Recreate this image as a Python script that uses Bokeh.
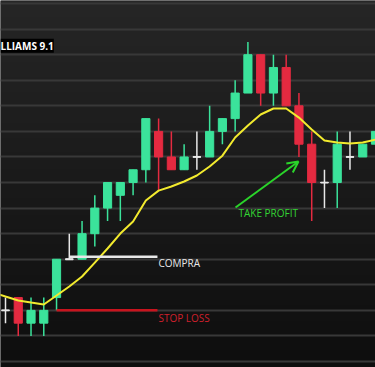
import numpy as np
from bokeh.plotting import figure
from bokeh.models import Range1d, FixedTicker, Label, Arrow, OpenHead, ColumnDataSource
from bokeh.embed import file_html
from bokeh.resources import INLINE

# ---- data (price levels, half-grid units) ----
idx   = list(range(30))
opens = [4, 5, 3, 3, 5, 8, 8, 10, 12, 13, 14, 15, 18, 16, 15, 16, 16, 18, 19, 21, 24, 21, 23, 20, 17, 14, 14, 16, 16, 17]
highs = [5, 5, 5, 5, 8, 10, 11, 13, 14, 14, 15, 19, 19, 18, 17, 18, 20, 19, 22, 25, 24, 24, 24, 21, 18, 15, 18, 18, 17, 18]
lows  = [3, 2, 2, 2, 4, 8, 8, 9, 11, 11, 13, 14, 13.4, 15, 15, 15, 16, 17, 18, 21, 20, 20, 20, 16, 11, 12, 12, 15, 16, 17]
closes= [4, 3, 4, 4, 8, 8, 10, 12, 14, 14, 15, 19, 16, 15, 16, 16, 18, 19, 21, 24, 21, 23, 20, 17, 14, 14, 17, 16, 17, 18]

ma_idx = list(range(-1, 30))
ma_val = [5.4, 5.08, 4.77, 4.61, 4.46, 5.16, 5.87, 6.65, 7.74, 8.84, 10.01, 10.95, 12.6, 13.37, 13.69, 14.08,
          14.55, 15.25, 16.1, 17.52, 18.46, 19.32, 19.79, 19.79, 19.08, 18.15, 17.29, 17.13, 17.05, 17.13, 17.36]

entry_level = 8.2
stop_level = 4.0
level_start_entry = 5
level_start_stop = 4
level_end = 11.91

GREEN = "#3be39b"
RED = "#e42a40"
WHITE = "#e8e8e8"

p = figure(width=375, height=367, output_backend="svg", toolbar_location=None,
           x_range=Range1d(-0.392, 29.0), y_range=Range1d(-0.47, 28.24),
           min_border=0, min_border_left=0, min_border_right=0, min_border_top=0, min_border_bottom=0)
p.outline_line_color = None
p.border_fill_color = "#151515"
p.background_fill_color = "#151515"
p.axis.visible = False
p.xgrid.visible = False
p.ygrid.ticker = FixedTicker(ticks=list(range(0, 30, 2)))
p.ygrid.grid_line_color = "#383838"
p.ygrid.grid_line_width = 2

# background gradient
N = 200
img = np.empty((N, 1), dtype=np.uint32)
view = img.view(dtype=np.uint8).reshape((N, 1, 4))
for r in range(N):
    t = r / (N - 1)
    c = int(14 + (38 - 14) * t)
    view[r, 0, 0] = c
    view[r, 0, 1] = c
    view[r, 0, 2] = c
    view[r, 0, 3] = 255
p.image_rgba(image=[img], x=-0.392, y=-0.47, dw=29.392, dh=28.71, level="image")

# candles
colors = []
for o, c in zip(opens, closes):
    colors.append(GREEN if c > o else (RED if c < o else WHITE))
src = ColumnDataSource(dict(x=idx, o=opens, h=highs, l=lows, c=closes,
                            top=[max(a, b) for a, b in zip(opens, closes)],
                            bot=[min(a, b) for a, b in zip(opens, closes)],
                            xl=[i - 0.3 for i in idx], xr=[i + 0.3 for i in idx],
                            color=colors))
p.segment(x0="x", y0="h", x1="x", y1="l", line_color="color", line_width=1.5, source=src)
p.vbar(x="x", width=0.64, top="top", bottom="bot", fill_color="color", line_color="color", source=src)
doji = [i for i in idx if opens[i] == closes[i]]
p.segment(x0=[i - 0.3 for i in doji], y0=[opens[i] for i in doji],
          x1=[i + 0.3 for i in doji], y1=[opens[i] for i in doji], line_color=WHITE, line_width=1.8)

# moving average
p.line(ma_idx, ma_val, line_color="#f2ea2e", line_width=2)

# entry / stop lines
p.segment(x0=[level_start_entry], y0=[entry_level], x1=[level_end], y1=[entry_level], line_color=WHITE, line_width=2.5)
p.segment(x0=[level_start_stop], y0=[stop_level], x1=[level_end], y1=[stop_level], line_color="#c8141e", line_width=2.5)

p.add_layout(Label(x=11.99, y=7.74, text="COMPRA", text_color=WHITE, text_font="Open Sans",
                   text_font_size="10px", text_baseline="middle"))
p.add_layout(Label(x=11.99, y=3.44, text="STOP LOSS", text_color="#d0202c", text_font="Open Sans",
                   text_font_size="10px", text_baseline="middle"))
p.add_layout(Label(x=18.26, y=11.58, text="TAKE PROFIT", text_color="#33d433", text_font="Open Sans",
                   text_font_size="10px", text_baseline="middle"))
p.add_layout(Arrow(end=OpenHead(size=11, line_color="#2ad42a", line_width=2),
                   x_start=18.03, y_start=12.05, x_end=22.96, y_end=15.64,
                   line_color="#2ad42a", line_width=2))
p.add_layout(Label(x=-0.392, y=24.7, text="LLIAMS 9.1", text_color="white", text_font="Open Sans",
                   text_font_style="bold", text_font_size="10px", text_baseline="middle",
                   background_fill_color="black", x_offset=0))

open("out.html", "w").write(file_html(p, INLINE))
